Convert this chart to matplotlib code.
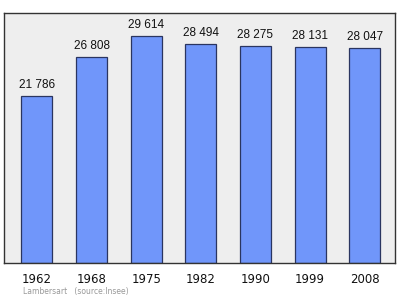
import matplotlib
matplotlib.use("Agg")
import matplotlib.pyplot as plt

years = ["1962", "1968", "1975", "1982", "1990", "1999", "2008"]
population = [21786, 26808, 29614, 28494, 28275, 28131, 28047]
value_labels = ["21 786", "26 808", "29 614", "28 494", "28 275", "28 131", "28 047"]
source_text = "Lambersart   (source:Insee)"

fig = plt.figure(figsize=(4.0, 2.99), dpi=100)
ax = fig.add_axes([0.011, 0.1204, 0.977, 0.836])
ax.set_facecolor("#eeeeee")

x = list(range(len(years)))
ax.bar(x, population, width=0.57, color="#7096fa", edgecolor="#2a3560", linewidth=0.9, zorder=2)
for xi, v, lab in zip(x, population, value_labels):
    ax.text(xi, v + 650, lab, ha="center", va="bottom", fontsize=8.5,
            family="Liberation Sans", color="#111111")

ax.set_xlim(-0.594, 6.556)
ax.set_ylim(0, max(population) * 1.1)
ax.set_xticks(x)
ax.set_xticklabels(years, fontsize=8.5, color="#111111")
ax.tick_params(axis="x", length=0, pad=7)
ax.set_yticks([])
for s in ax.spines.values():
    s.set_color("#333333")
    s.set_linewidth(1.0)

fig.text(0.058, 0.01, source_text, fontsize=5.5, color="#999999", ha="left", va="bottom")

fig.savefig("out.png", dpi=100)
